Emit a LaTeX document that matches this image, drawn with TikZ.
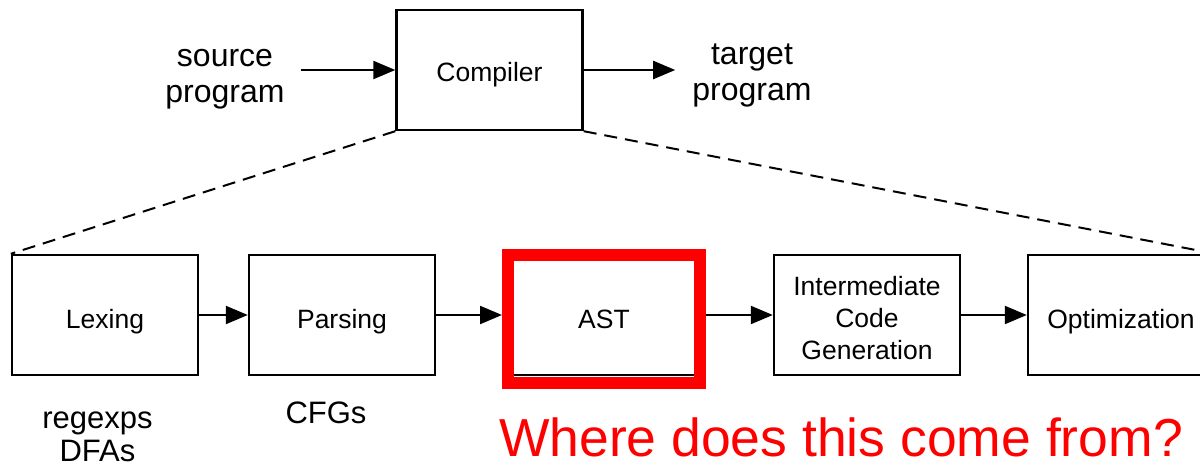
\documentclass[tikz,border=0pt]{standalone}
\usepackage{fontspec}
\setmainfont{Liberation Sans}
\usetikzlibrary{arrows.meta}
\begin{document}
\begin{tikzpicture}[x=1pt,y=-1pt,
  stagebox/.style={draw=black,line width=2.4pt,minimum width=186pt,minimum height=120pt,inner sep=0pt},
  boxtext/.style={font=\fontsize{26.5}{32}\selectfont,align=center,inner sep=0pt},
  lbl/.style={font=\fontsize{32}{36}\selectfont,align=center,inner sep=0pt},
  arr/.style={line width=2.2pt,-{Triangle[length=22pt,width=18pt]}},
  dashline/.style={line width=2pt,dash pattern=on 13pt off 8pt}]
\useasboundingbox (0,0) rectangle (1200,468);
\fill[white] (0,0) rectangle (1200,468);

\node[stagebox] (compiler) at (489.5,70) {};
\node[boxtext,anchor=base] (compilertext) at (489.5,82) {Compiler};
\node[lbl,inner xsep=16pt] (src) at (225,79) {source\\program};
\node[lbl,inner xsep=17pt] (tgt) at (752,75) {target\\program};
\draw[arr] (src.east |- compiler.west) -- (compiler.west);
\draw[arr] (compiler.east) -- (tgt.west |- compiler.east);

\node[stagebox] (lex) at (105,315) {};
\node[boxtext,anchor=base] (lextext) at (105,328) {Lexing};
\node[stagebox] (parse) at (342,315) {};
\node[boxtext,anchor=base] (parsetext) at (342,328) {Parsing};
\node[stagebox,minimum width=196pt] (ast) at (604,315) {};
\node[boxtext,anchor=base] (asttext) at (604,328) {AST};
\node[draw=red,line width=12pt,minimum width=192pt,minimum height=128pt,inner sep=0pt] (astframe) at (604,319) {};
\node[stagebox] (icg) at (867,315) {};
\node[boxtext] (icgtext) at (867,318.5) {Intermediate\\Code\\Generation};
\node[stagebox] (opt) at (1121,315) {};
\node[boxtext,anchor=base] (opttext) at (1121,328) {Optimization};

\draw[arr] (lex.east) -- (parse.west);
\draw[arr] (parse.east) -- (astframe.west |- parse.east);
\draw[arr] (astframe.east |- icg.west) -- (icg.west);
\draw[arr] (icg.east) -- (opt.west);

\draw[dashline] (compiler.south west) -- (lex.north west);
\draw[dashline] (compiler.south east) -- (opt.north east);

\node[font=\fontsize{31}{33.5}\selectfont,align=center,inner sep=0pt] (lexnote) at (97.5,436.7) {regexps\\DFAs};
\node[font=\fontsize{31}{33.5}\selectfont,inner sep=0pt] (parsenote) at (326,413) {CFGs};
\node[font=\fontsize{53.5}{60}\selectfont,text=red,inner sep=0pt] (question) at (841,437) {Where does this come from?};
\end{tikzpicture}
\end{document}
